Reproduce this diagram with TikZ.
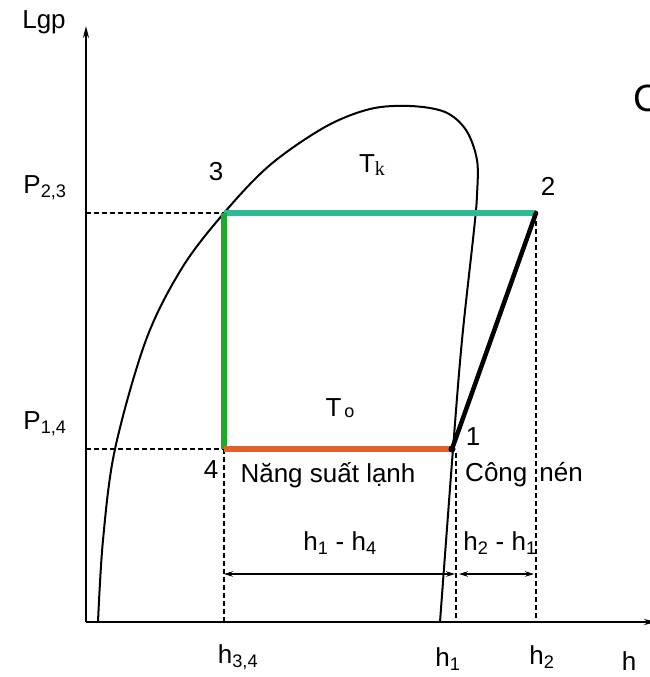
\documentclass[tikz,border=0pt]{standalone}
\usepackage{fontspec}
\setmainfont{Liberation Sans}
\newfontfamily\serifk{Liberation Serif}
\usetikzlibrary{arrows.meta}
\definecolor{cteal}{HTML}{2DBB96}
\definecolor{cgreen}{HTML}{1FAA2E}
\definecolor{corange}{HTML}{E4602A}
\begin{document}
\begin{tikzpicture}[x=1pt,y=-1pt,
  lbl/.style={font=\fontsize{26}{30}\selectfont, inner sep=0pt},
  axis/.style={line width=2.2pt},
  dome/.style={line width=2pt},
  guide/.style={line width=1.1pt, dash pattern=on 5pt off 3pt},
  dim/.style={line width=1.1pt, {Stealth[length=9pt,width=5.5pt]}-{Stealth[length=9pt,width=5.5pt]}},
  cyc/.style={line width=5.5pt}]
\useasboundingbox (0,0) rectangle (650,677);
% key points
\coordinate (O) at (86,622);
\coordinate (Ytop) at (86,26);
\coordinate (Xend) at (656,622);
\coordinate (P1) at (452,449);
\coordinate (P2) at (536,213);
\coordinate (P3) at (224,213);
\coordinate (P4) at (224,449);
\coordinate (A23) at (86,213);
\coordinate (A14) at (86,449);
\coordinate (B4) at (224,622);
\coordinate (T1) at (456,453);
\coordinate (B1) at (456,622);
\coordinate (B2) at (536,622);
\coordinate (D4) at (224,574);
\coordinate (D1a) at (455,574);
\coordinate (D1b) at (459,574);
\coordinate (D2) at (534,574);
% axes
\draw[axis, -{Stealth[length=12pt,width=6pt]}] (O) -- (Ytop);
\draw[axis, -{Stealth[length=12pt,width=6pt]}] (O) -- (Xend);
% guides
\draw[guide] (A23) -- (P3);
\draw[guide] (A14) -- (P4);
\draw[guide] (P4) -- (B4);
\draw[guide] (T1) -- (B1);
\draw[guide] (P2) -- (B2);
% saturation dome
\draw[dome] plot[smooth, tension=0.55] coordinates {(98,622) (103,540) (115,449) (146,340) (182,268) (224,213) (270,165) (325,127) (370,109) (410,106) (445,112) (466,130) (477,160) (477,195) (474,230) (462,340) (453,449) (440,622)};
% cycle
\draw[cyc, cteal] (P3) -- (P2);
\draw[cyc, cgreen] (P3) -- (P4);
\draw[cyc, corange] (P4) -- (P1);
\draw[line width=4.5pt, line cap=round] (P1) -- (P2);
\fill (P1) circle (3.5pt);
% dimension arrows
\draw[dim] (D4) -- (D1a);
\draw[dim] (D1b) -- (D2);
% labels
\node[lbl] (lgp) at (44,22) {Lgp};
\node[lbl] (p23) at (45,188) {P\textsubscript{2,3}};
\node[lbl] (p14) at (45,424) {P\textsubscript{1,4}};
\node[lbl] (n3) at (216,172) {3};
\node[lbl] (n2) at (548,186) {2};
\node[lbl] (n4) at (211,470) {4};
\node[lbl] (n1) at (473,437) {1};
\node[lbl] (tk) at (372,165) {T{\serifk\fontsize{20}{24}\selectfont\raisebox{-3pt}{k}}};
\node[lbl] (to) at (340,408) {T{\fontsize{18}{20}\selectfont\raisebox{-1pt}{\,o}}};
\node[lbl] (qo) at (328,475) {Năng suất lạnh};
\node[lbl] (wc) at (524,475) {Công\hspace{12pt}nén};
\node[lbl] (d14) at (340,543) {h\textsubscript{1} - h\textsubscript{4}};
\node[lbl] (d21) at (500,543) {h\textsubscript{2} - h\textsubscript{1}};
\node[lbl] (h34) at (238,657) {h\textsubscript{3,4}};
\node[lbl] (h1) at (448,659) {h\textsubscript{1}};
\node[lbl] (h2) at (542,657) {h\textsubscript{2}};
\node[lbl] (h) at (629,661) {h};
\node[font=\fontsize{38}{40}\selectfont, inner sep=0pt, anchor=west] (cc) at (633,98) {C};
\end{tikzpicture}
\end{document}
